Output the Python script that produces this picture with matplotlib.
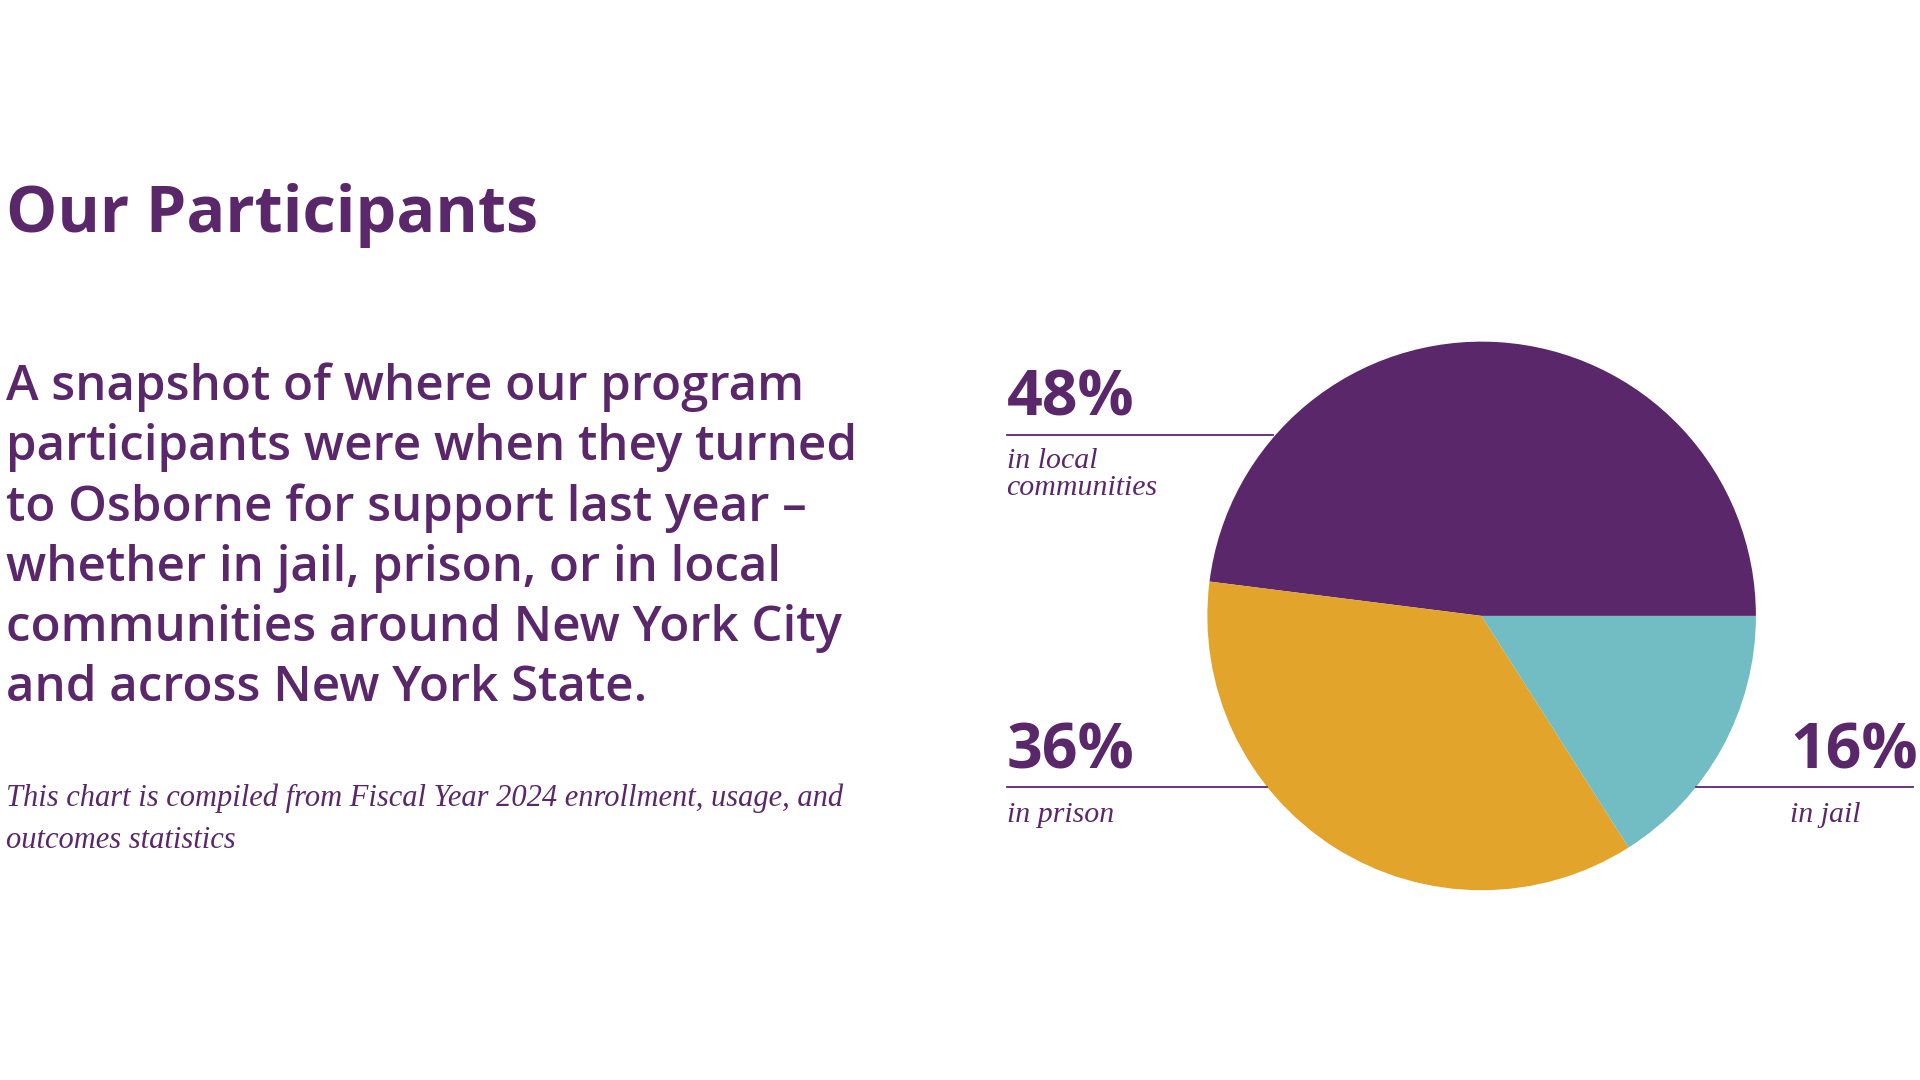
import matplotlib
matplotlib.use("Agg")
import matplotlib.pyplot as plt

labels = ["in local\ncommunities", "in prison", "in jail"]
values = [48, 36, 16]
pct_labels = ["48%", "36%", "16%"]
colors = ["#5B276B", "#E2A42A", "#72BCC3"]
PURPLE = "#5B276B"

W, H = 1568, 882
fig = plt.figure(figsize=(19.2, 10.8), dpi=100)
ax = fig.add_axes([0, 0, 1, 1])
Y = lambda y: H - y

ax.pie(values, colors=colors, startangle=0, counterclock=True,
       center=(1210, Y(503)), radius=224, wedgeprops=dict(linewidth=0))
ax.set_xlim(0, W); ax.set_ylim(0, H); ax.set_aspect("equal"); ax.axis("off")

sans = "Open Sans"
ax.text(5, Y(176), "Our Participants", fontsize=46.5, fontweight="bold", family=sans,
        color=PURPLE, va="center", ha="left")
body = ("A snapshot of where our program\nparticipants were when they turned\n"
        "to Osborne for support last year –\nwhether in jail, prison, or in local\n"
        "communities around New York City\nand across New York State.")
ax.text(5, Y(296), body, fontsize=35.5, fontweight="semibold", family=sans,
        color=PURPLE, va="top", ha="left", linespacing=1.3)
ax.text(5, Y(640), "This chart is compiled from Fiscal Year 2024 enrollment, usage, and\noutcomes statistics",
        fontsize=22, style="italic", family="Liberation Serif", color=PURPLE,
        va="top", ha="left", linespacing=1.6)

# callouts: (x, pct_y, line_y, x0, x1, label_y)
callouts = [(822, 326, 355, 822, 1040, 366),
            (822, 614, 643, 822, 1035, 655),
            (1462, 614, 643, 1385, 1562, 655)]
for (x, py, ly, x0, x1, lab_y), p, lab in zip(callouts, pct_labels, labels):
    ax.text(x, Y(py), p, fontsize=45, fontweight="bold", family=sans,
            color=PURPLE, va="center", ha="left")
    ax.plot([x0, x1], [Y(ly), Y(ly)], color=PURPLE, lw=1.3)
    ax.text(x, Y(lab_y), lab, fontsize=21.5, style="italic", family="Liberation Serif",
            color=PURPLE, va="top", ha="left", linespacing=1.05)

fig.savefig("out.png", dpi=100, facecolor="white")
